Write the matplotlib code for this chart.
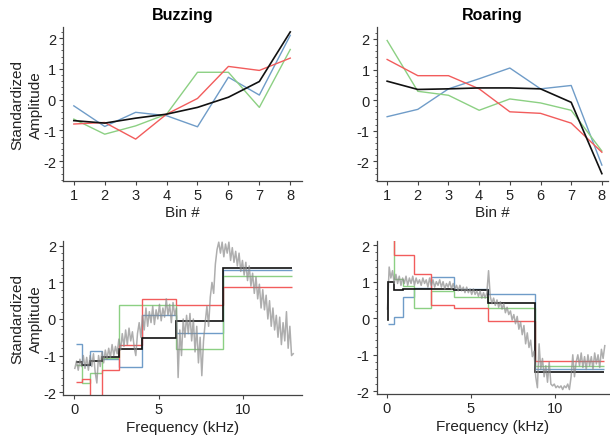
import numpy as np
import matplotlib
matplotlib.use("Agg")
import matplotlib.pyplot as plt
from matplotlib.ticker import MultipleLocator

plt.rcParams['font.family'] = ['Liberation Sans', 'DejaVu Sans']

# ---- data ----
bins = [1, 2, 3, 4, 5, 6, 7, 8]

# top row: standardized amplitude per bin
buzz_black = [-0.68, -0.76, -0.60, -0.47, -0.25, 0.08, 0.59, 2.20]
buzz_blue = [-0.20, -0.87, -0.41, -0.52, -0.88, 0.73, 0.15, 2.09]
buzz_green = [-0.63, -1.12, -0.85, -0.47, 0.89, 0.89, -0.25, 1.63]
buzz_red = [-0.79, -0.74, -1.28, -0.47, 0.04, 1.08, 0.95, 1.35]

roar_black = [0.62, 0.35, 0.37, 0.40, 0.40, 0.37, -0.07, -2.40]
roar_blue = [-0.54, -0.30, 0.37, 0.70, 1.05, 0.37, 0.48, -2.12]
roar_green = [1.95, 0.29, 0.16, -0.33, 0.04, -0.09, -0.33, -1.66]
roar_red = [1.33, 0.80, 0.80, 0.37, -0.38, -0.43, -0.75, -1.70]

# bottom row: bin edges (kHz) and per-bin levels
edges = [0.1, 0.45, 0.95, 1.63, 2.65, 4.0, 6.03, 8.83, 12.88]

sbuzz_black = [-1.18, -1.27, -1.14, -1.03, -0.82, -0.52, -0.06, 1.40]
sbuzz_blue = [-0.68, -1.27, -0.88, -1.10, -1.31, 0.12, -0.38, 1.33]
sbuzz_green = [-1.27, -1.75, -1.48, -1.07, 0.38, 0.38, -0.81, 1.18]
sbuzz_red = [-1.72, -1.65, -2.40, -1.39, -0.72, 0.54, 0.39, 0.88]

sroar_black = [1.00, 0.77, 0.80, 0.81, 0.81, 0.78, 0.43, -1.46]
sroar_black_start = -0.05
sroar_blue = [-0.15, 0.04, 0.58, 0.84, 1.13, 0.79, 0.67, -1.38]
sroar_green = [2.50, 1.08, 0.88, 0.29, 0.74, 0.58, 0.29, -1.31]
sroar_red = [2.50, 1.73, 1.73, 1.22, 0.36, 0.29, -0.07, -1.18]

# spectra, one value every 0.1 kHz starting at 0.05 kHz
buzz_spec = [
    -1.35, -1.15, -1.40, -1.10, -1.30, -1.00, -1.35, -1.05, -1.40, -1.00,
    -1.30, -0.95, -1.45, -1.75, -1.00, -1.30, -0.90, -1.20, -0.85, -1.10,
    -0.80, -1.05, -0.70, -1.00, -0.75, -0.95, -0.55, -0.85, -0.40, -0.75,
    -0.30, -0.70, -0.25, -0.60, -0.35, -0.75, -1.00, -0.40, -0.10, -0.50,
    0.10, -0.30, 0.30, -0.20, 0.20, -0.10, 0.35, -0.15, 0.25, 0.00,
    0.40, -0.05, 0.30, 0.05, 0.55, 0.10, 0.40, -0.10, 0.45, 0.10,
    0.30, -1.60, -0.30, -1.00, 0.00, -0.50, 0.10, -0.40, 0.15, -0.60,
    0.00, -0.90, -0.20, -1.20, -0.50, -1.55, -0.60, -0.10, 0.35, -0.20,
    0.60, 1.00, 0.70, 1.50, 1.90, 2.10, 1.80, 2.10, 1.70, 2.05,
    1.80, 2.10, 1.60, 1.95, 1.55, 1.85, 1.45, 1.80, 1.30, 1.60,
    1.20, 1.55, 1.05, 1.45, 0.90, 1.25, 0.70, 1.15, 0.55, 0.95,
    0.30, 0.80, 0.25, 0.65, 0.00, 0.50, -0.20, 0.30, -0.30, 0.10,
    -0.50, 0.05, -0.70, -0.10, -0.60, 0.20, -0.80, -0.20, -1.00, -0.95,
]
roar_spec = [
    0.25, 1.40, 1.10, 1.30, 0.95, 1.20, 0.95, 1.15, 0.90, 1.10,
    0.95, 1.15, 0.90, 1.10, 0.95, 1.15, 0.90, 1.10, 0.95, 1.05,
    0.90, 1.10, 0.95, 1.05, 0.85, 1.10, 0.90, 1.05, 0.85, 1.00,
    0.90, 1.05, 0.85, 1.00, 0.80, 0.95, 0.85, 1.00, 0.80, 0.95,
    0.80, 0.90, 0.75, 0.90, 0.75, 0.85, 0.70, 0.85, 0.70, 0.80,
    0.65, 0.80, 0.65, 0.75, 0.60, 0.75, 0.55, 0.70, 0.55, 0.70,
    1.30, 0.60, 0.40, 0.55, 0.35, 0.50, 0.30, 0.45, 0.25, 0.40,
    0.15, 0.30, 0.10, 0.20, -0.05, 0.10, -0.15, 0.05, -0.30, -0.10,
    -0.45, -0.20, -0.70, -0.40, -0.80, -0.60, -1.05, -0.90, -1.60, -1.90,
    -0.70, -1.40, -1.10, -1.60, -1.30, -1.75, -1.20, -1.80, -1.85, -1.80,
    -1.90, -1.85, -1.90, -1.85, -1.95, -1.85, -1.90, -1.80, -1.95, -1.60,
    -1.00, -1.60, -1.20, -1.00, -1.30, -0.95, -1.35, -1.05, -1.40, -1.00,
    -1.30, -1.05, -1.40, -0.95, -1.25, -1.00, -1.35, -0.85, -1.10, -0.75,
]
freq = 0.05 + 0.1 * np.arange(len(buzz_spec))

c_blue = '#6f9cc8'
c_green = '#8cd083'
c_red = '#f25c5c'
c_black = '#111111'
c_gray = '#8c8c8c'
FS = 10.5


def style(ax, xlim, ylim):
    for s in ['top', 'right']:
        ax.spines[s].set_visible(False)
    for s in ['left', 'bottom']:
        ax.spines[s].set_color('#444444')
        ax.spines[s].set_linewidth(0.9)
    ax.set_xlim(*xlim)
    ax.set_ylim(*ylim)
    ax.set_yticks([-2, -1, 0, 1, 2])
    ax.set_yticklabels(['-2', '-1', '0', '1', '2'])
    ax.yaxis.set_minor_locator(MultipleLocator(0.2))
    ax.tick_params(axis='both', which='major', labelsize=FS, length=3,
                   width=0.8, color='#444444', labelcolor='#222222', pad=2)
    ax.tick_params(axis='y', which='minor', length=1.8, width=0.6,
                   color='#444444')


fig = plt.figure(figsize=(6.1, 4.39), dpi=100)
W, H = 610.0, 439.0
ax1 = fig.add_axes([63 / W, 1 - 182 / H, 239 / W, 154 / H])
ax2 = fig.add_axes([376.7 / W, 1 - 182 / H, 231.3 / W, 154 / H])
ax3 = fig.add_axes([63 / W, 1 - 395.7 / H, 238.7 / W, 154 / H])
ax4 = fig.add_axes([376.7 / W, 1 - 395.3 / H, 232.3 / W, 153.6 / H])

# top row
for ax, blk, blu, grn, red, title in [
        (ax1, buzz_black, buzz_blue, buzz_green, buzz_red, 'Buzzing'),
        (ax2, roar_black, roar_blue, roar_green, roar_red, 'Roaring')]:
    ax.plot(bins, blu, color=c_blue, lw=1.0)
    ax.plot(bins, grn, color=c_green, lw=1.0)
    ax.plot(bins, red, color=c_red, lw=1.0)
    ax.plot(bins, blk, color=c_black, lw=1.2)
    ax.set_xticks(bins)
    ax.set_xlabel('Bin #', fontsize=FS + 0.5, color='#222222', labelpad=2)
    ax.set_title(title, fontsize=FS + 1, fontweight='bold', pad=6)

style(ax1, (0.65, 8.38), (-2.64, 2.36))
style(ax2, (0.66, 8.2), (-2.64, 2.39))
ax1.set_ylabel('Standardized\nAmplitude', fontsize=FS + 0.5,
               color='#222222', labelpad=0, linespacing=1.4)

# bottom row
for ax, spec, blk, blu, grn, red in [
        (ax3, buzz_spec, sbuzz_black, sbuzz_blue, sbuzz_green, sbuzz_red),
        (ax4, roar_spec, sroar_black, sroar_blue, sroar_green, sroar_red)]:
    ax.stairs(blu, edges, baseline=None, color=c_blue, lw=1.0)
    ax.stairs(grn, edges, baseline=None, color=c_green, lw=1.0)
    ax.stairs(red, edges, baseline=None, color=c_red, lw=1.0)
    ax.stairs(blk, edges, baseline=None, color=c_black, lw=1.2)
    ax.plot(freq, spec, color=c_gray, lw=1.1, alpha=0.7)
    ax.set_xticks([0, 5, 10])
    ax.set_xlabel('Frequency (kHz)', fontsize=FS + 0.5, color='#222222',
                  labelpad=3)

# black roaring curve starts with a short low segment
ax4.stairs([sroar_black_start], [0.07, edges[0]], baseline=None,
           color=c_black, lw=1.2)
ax4.plot([edges[0], edges[0]], [sroar_black_start, sroar_black[0]],
         color=c_black, lw=1.2)

style(ax3, (-0.65, 13.45), (-2.07, 2.14))
style(ax4, (-0.59, 13.2), (-2.08, 2.12))
ax3.set_ylabel('Standardized\nAmplitude', fontsize=FS + 0.5,
               color='#222222', labelpad=0, linespacing=1.4)

fig.savefig('out.png', dpi=100)
